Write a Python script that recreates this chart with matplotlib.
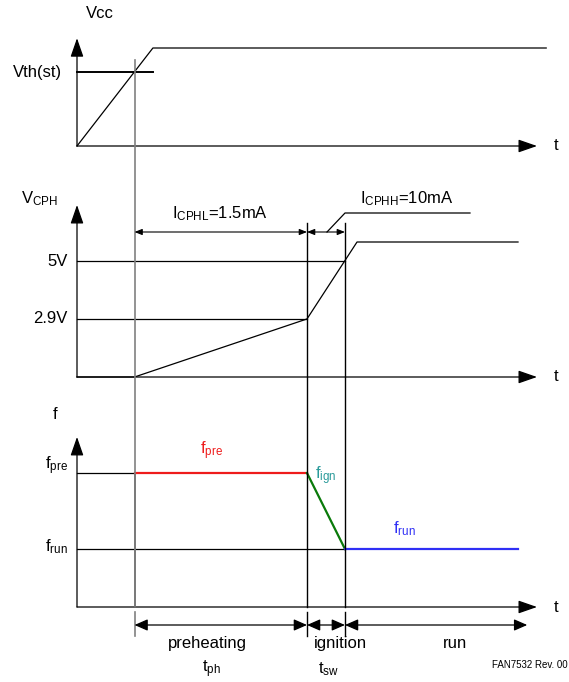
import matplotlib
matplotlib.use('Agg')
import matplotlib.pyplot as plt

plt.rcParams['font.family'] = ['Liberation Sans', 'DejaVu Sans']
plt.rcParams['mathtext.fontset'] = 'custom'
plt.rcParams['mathtext.rm'] = 'Liberation Sans'
plt.rcParams['mathtext.it'] = 'Liberation Sans:italic'

# ---- data (time in arbitrary units, heights are schematic) ----
t_events = [1.0, 4.0, 4.66]      # Vcc hits Vth(st), end of preheat, end of ignition
t_axis_end = 8.0

vcc_t = [0, 1.32, 8.16]
vcc_v = [0, 1, 1]
vth_level = 0.755

vcph_t = [0, 1.0, 4.0, 4.87, 7.67]
vcph_v = [0, 0, 0.43, 1, 1]
vcph_levels = [0.859, 0.43]
vcph_labels = ['5V', '2.9V']

f_levels = [1.0, 0.433]
f_labels = [r'$\mathrm{f_{pre}}$', r'$\mathrm{f_{run}}$']
fpre_t = [1.0, 4.0]
fign_t = [4.0, 4.66]
frun_t = [4.66, 7.67]
run_end = 7.83

phase_labels = ['preheating', 'ignition', 'run']

# ---- layout ----
W, H = 569, 682
X0 = 77            # pixel of time origin
PX_T = 57.5        # pixels per time unit
xlim = (-X0 / PX_T, (W - X0) / PX_T)
FS = 12


def tx(px):
    return (px - X0) / PX_T


fig = plt.figure(figsize=(W / 100, H / 100), dpi=100)


def panel(base_px, top_px):
    ax = fig.add_axes([0, 1 - base_px / H, 1, (base_px - top_px) / H])
    ax.set_xlim(xlim)
    ax.set_ylim(0, 1)
    ax.axis('off')
    return ax


def axis_arrows(ax, ytip):
    kw = dict(arrowstyle='-|>,head_length=1.15,head_width=0.4', mutation_scale=10,
              lw=0.9, color='k', shrinkA=0, shrinkB=0)
    ax.annotate('', xy=(t_axis_end, 0), xytext=(0, 0), arrowprops=kw, annotation_clip=False)
    ax.annotate('', xy=(0, ytip), xytext=(0, 0), arrowprops=kw, annotation_clip=False)
    ax.text(t_axis_end + tx(556) - tx(537), 0, 't', fontsize=FS, ha='center', va='center')


lw = 0.9

# top: Vcc
ax1 = panel(146, 48)
axis_arrows(ax1, 1.10)
ax1.plot(vcc_t, vcc_v, color='k', lw=lw, clip_on=False)
ax1.plot([0, vcc_t[1]], [vth_level, vth_level], color='k', lw=1.4, clip_on=False)
ax1.text(tx(62), vth_level, 'Vth(st)', fontsize=FS, ha='right', va='center')

# middle: V_CPH
ax2 = panel(377, 242)
axis_arrows(ax2, 1.274)
ax2.plot(vcph_t, vcph_v, color='k', lw=lw, clip_on=False)
ax2.plot([0, t_events[2]], [vcph_levels[0]] * 2, color='k', lw=lw, clip_on=False)
ax2.plot([0, t_events[1]], [vcph_levels[1]] * 2, color='k', lw=lw, clip_on=False)
for lev, lab in zip(vcph_levels, vcph_labels):
    ax2.text(tx(68), lev, lab, fontsize=FS, ha='right', va='center')

# bottom: frequency
ax3 = panel(607, 473)
axis_arrows(ax3, 1.269)
ax3.plot([0, t_events[0]], [f_levels[0]] * 2, color='k', lw=lw, clip_on=False)
ax3.plot([0, t_events[2]], [f_levels[1]] * 2, color='k', lw=lw, clip_on=False)
ax3.plot([t_events[0]] * 2, [0, f_levels[0]], color='#444444', lw=1.2, clip_on=False)
ax3.plot(fpre_t, [f_levels[0]] * 2, color='#ee1c1c', lw=1.6, clip_on=False)
ax3.plot(fign_t, f_levels, color='#0a7a0a', lw=1.6, clip_on=False)
ax3.plot(frun_t, [f_levels[1]] * 2, color='#2f2ff5', lw=1.6, clip_on=False)

# overlay in pixel rows
ov = fig.add_axes([0, 0, 1, 1])
ov.set_xlim(xlim)
ov.set_ylim(H, 0)
ov.axis('off')
ov.patch.set_alpha(0)

# event lines
ov.plot([t_events[0]] * 2, [60, 607], color='#808080', lw=1.2)
ov.plot([t_events[0]] * 2, [612, 636], color='#808080', lw=1.2)
for t in t_events[1:]:
    ov.plot([t, t], [223, 607], color='k', lw=1.0)
    ov.plot([t, t], [612, 636], color='k', lw=1.0)

# dimension arrows
small = dict(arrowstyle='<|-|>,head_length=0.45,head_width=0.18', mutation_scale=10,
             lw=0.8, color='k', shrinkA=0, shrinkB=0)
ov.annotate('', xy=(t_events[0], 232), xytext=(t_events[1], 232), arrowprops=small)
ov.annotate('', xy=(t_events[1], 232), xytext=(t_events[2], 232), arrowprops=small)
ov.plot([tx(327), tx(345), tx(470)], [232, 213, 213], color='k', lw=lw)

big = dict(arrowstyle='<|-|>,head_length=0.8,head_width=0.35', mutation_scale=10,
           lw=0.9, color='k', shrinkA=0, shrinkB=0)
bounds = [t_events[0], t_events[1], t_events[2], run_end]
for a, b in zip(bounds[:-1], bounds[1:]):
    ov.annotate('', xy=(a, 625), xytext=(b, 625), arrowprops=big)

# texts
ov.text(tx(100), 14, 'Vcc', fontsize=FS, ha='center', va='center')
ov.text(tx(21), 203, r'$\mathrm{V_{CPH}}$', fontsize=FS, ha='left', va='baseline')
ov.text(tx(53), 419, 'f', fontsize=FS, ha='left', va='baseline')
ov.text(tx(68), 469, f_labels[0], fontsize=FS, ha='right', va='baseline')
ov.text(tx(68), 551, f_labels[1], fontsize=FS, ha='right', va='baseline')
ov.text(tx(172), 218, r'$\mathrm{I_{CPHL}}$=1.5mA', fontsize=FS, ha='left', va='baseline')
ov.text(tx(360), 203, r'$\mathrm{I_{CPHH}}$=10mA', fontsize=FS, ha='left', va='baseline')
ov.text(tx(200), 454, r'$\mathrm{f_{pre}}$', fontsize=FS, color='#ee1c1c', ha='left', va='baseline')
ov.text(tx(315), 479, r'$\mathrm{f_{ign}}$', fontsize=FS, color='#2a9a9a', ha='left', va='baseline')
ov.text(tx(393), 533, r'$\mathrm{f_{run}}$', fontsize=FS, color='#2f2ff5', ha='left', va='baseline')
for cx, lab in zip([207, 340, 455], phase_labels):
    ov.text(tx(cx), 648, lab, fontsize=FS, ha='center', va='baseline')
ov.text(tx(202), 672, r'$\mathrm{t_{ph}}$', fontsize=FS, ha='left', va='baseline')
ov.text(tx(318), 673, r'$\mathrm{t_{sw}}$', fontsize=FS, ha='left', va='baseline')
ov.text(tx(568), 668, 'FAN7532 Rev. 00', fontsize=7, ha='right', va='baseline')

fig.savefig('out.png', dpi=100)
